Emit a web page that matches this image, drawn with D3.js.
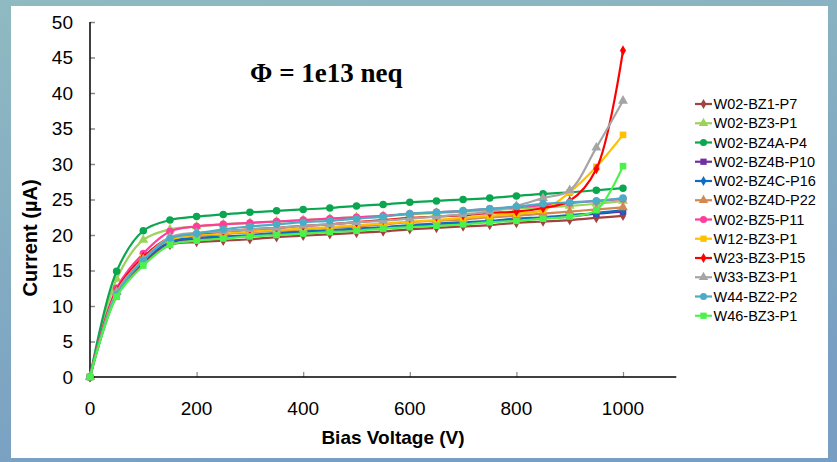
<!DOCTYPE html>
<html>
<head>
<meta charset="utf-8">
<script src="https://cdn.jsdelivr.net/npm/d3@7"></script>
<style>
	body { margin: 0; padding: 0; overflow: hidden; }
	svg { display: block; }
</style>
</head>
<body>
<div id="chart"></div>
<script>
// bias voltage steps (V)
const voltages = [0, 50, 100, 150, 200, 250, 300, 350, 400, 450, 500, 550, 600, 650, 700, 750, 800, 850, 900, 950, 1000];

const seriesNames = [
	'W02-BZ1-P7', 'W02-BZ3-P1', 'W02-BZ4A-P4', 'W02-BZ4B-P10', 'W02-BZ4C-P16', 'W02-BZ4D-P22',
	'W02-BZ5-P11', 'W12-BZ3-P1', 'W23-BZ3-P15', 'W33-BZ3-P1', 'W44-BZ2-P2', 'W46-BZ3-P1'
];

// current in uA, one array per sensor
const bz1P7 = [0, 11.5, 16.0, 18.6, 19.0, 19.2, 19.4, 19.7, 19.9, 20.1, 20.3, 20.5, 20.8, 21.0, 21.2, 21.4, 21.7, 21.9, 22.1, 22.4, 22.7];
const bz3P1 = [0, 13.8, 19.3, 20.8, 21.2, 21.5, 21.7, 21.9, 22.1, 22.3, 22.5, 22.7, 22.9, 23.1, 23.3, 23.5, 23.7, 23.9, 24.1, 24.4, 24.8];
const bz4aP4 = [0, 14.9, 20.6, 22.1, 22.6, 22.9, 23.2, 23.4, 23.6, 23.8, 24.1, 24.3, 24.6, 24.8, 25.0, 25.2, 25.5, 25.8, 26.0, 26.3, 26.6];
const bz4bP10 = [0, 11.8, 16.3, 18.9, 19.4, 19.6, 19.9, 20.1, 20.3, 20.6, 20.8, 21.0, 21.2, 21.5, 21.7, 21.9, 22.1, 22.4, 22.6, 23.0, 23.3];
const bz4cP16 = [0, 11.9, 16.4, 19.1, 19.6, 19.8, 20.0, 20.3, 20.5, 20.7, 20.9, 21.1, 21.4, 21.6, 21.8, 22.0, 22.3, 22.5, 22.8, 23.1, 23.5];
const bz4dP22 = [0, 12.0, 16.6, 19.4, 19.9, 20.1, 20.4, 20.6, 20.8, 21.0, 21.2, 21.5, 21.8, 22.0, 22.2, 22.5, 22.7, 23.0, 23.3, 23.6, 23.9];
const bz5P11 = [0, 12.5, 17.4, 20.5, 21.2, 21.5, 21.7, 21.9, 22.1, 22.3, 22.5, 22.7, 23.0, 23.2, 23.4, 23.7, 23.9, 24.2, 24.5, 24.8, 25.1];
const w12P1 = [0, 11.8, 16.8, 19.3, 20.0, 20.2, 20.5, 20.7, 20.9, 21.1, 21.4, 21.6, 21.9, 22.1, 22.4, 22.7, 23.0, 23.5, 26.0, 29.6, 34.1];
const w23P15 = [0, 12.2, 16.9, 19.6, 20.2, 20.5, 20.8, 21.0, 21.3, 21.5, 21.8, 22.1, 22.4, 22.6, 22.8, 23.1, 23.3, 23.8, 24.8, 29.3, 46.0];
const w33P1 = [0, 12.0, 16.6, 19.7, 20.3, 20.5, 20.8, 21.0, 21.3, 21.5, 21.8, 22.0, 22.3, 22.6, 22.9, 23.3, 24.1, 25.2, 26.3, 32.3, 38.9];
const w44P2 = [0, 11.6, 16.4, 19.5, 20.2, 20.8, 21.2, 21.5, 21.8, 22.0, 22.3, 22.6, 23.0, 23.2, 23.4, 23.7, 24.0, 24.4, 24.6, 24.8, 25.2];
const w46P1 = [0, 11.3, 15.7, 18.6, 19.2, 19.5, 19.8, 20.0, 20.2, 20.4, 20.6, 20.9, 21.1, 21.3, 21.5, 21.8, 22.0, 22.3, 22.6, 23.5, 29.7];

const seriesValues = [bz1P7, bz3P1, bz4aP4, bz4bP10, bz4cP16, bz4dP22, bz5P11, w12P1, w23P15, w33P1, w44P2, w46P1];

const seriesColors = [
	'#a0423f', '#9bd35a', '#0ba650', '#7030a0', '#0a6fc2', '#d2884e',
	'#ff3d9a', '#ffc000', '#ff0000', '#a5a5a5', '#4bacc6', '#4cf24c'
];

const xTicks = [0, 200, 400, 600, 800, 1000];
const yTicks = [0, 5, 10, 15, 20, 25, 30, 35, 40, 45, 50];

// Excel style marker cycle: diamond, triangle, circle, square
const markerCycle = [d3.symbolDiamond, d3.symbolTriangle, d3.symbolCircle, d3.symbolSquare];
const markerSizes = [32, 42, 44, 44];

function drawChart() {
	const width = 837;
	const height = 462;
	const left = 90, right = 676.3, top = 22, bottom = 377;

	const svg = d3.select('#chart').append('svg')
		.attr('width', width)
		.attr('height', height);

	// slide background
	const defs = svg.append('defs');
	const grad = defs.append('linearGradient')
		.attr('id', 'bg')
		.attr('x1', 0).attr('y1', 0)
		.attr('x2', 0.3).attr('y2', 1);
	grad.append('stop').attr('offset', '0%').attr('stop-color', '#8fbac1');
	grad.append('stop').attr('offset', '100%').attr('stop-color', '#789fc3');

	svg.append('rect')
		.attr('width', width)
		.attr('height', height)
		.attr('fill', 'url(#bg)');

	svg.append('rect')
		.attr('x', 11).attr('y', 6)
		.attr('width', 817).attr('height', 452)
		.attr('fill', '#fff');

	const x = d3.scaleLinear().domain([0, 1100]).range([left, right]);
	const y = d3.scaleLinear().domain([0, 50]).range([bottom, top]);

	// y axis
	const yAxis = svg.append('g')
		.attr('transform', `translate(${left},0)`)
		.call(d3.axisRight(y).tickValues(yTicks).tickSize(5).tickFormat(''));
	yAxis.select('.domain').remove();
	yAxis.selectAll('.tick line').attr('stroke', '#888').attr('stroke-width', 1.5);

	svg.append('g')
		.selectAll('text')
		.data(yTicks)
		.enter().append('text')
		.attr('x', 73)
		.attr('y', d => y(d))
		.attr('dy', '0.36em')
		.attr('text-anchor', 'end')
		.attr('font-family', 'Liberation Sans, Arial, sans-serif')
		.attr('font-size', 19)
		.attr('fill', '#000')
		.text(d => d);

	// x axis
	const xAxis = svg.append('g')
		.attr('transform', `translate(0,${bottom})`)
		.call(d3.axisTop(x).tickValues(xTicks.filter(d => d > 0)).tickSize(5).tickFormat(''));
	xAxis.select('.domain').remove();
	xAxis.selectAll('.tick line').attr('stroke', '#888').attr('stroke-width', 1.2);

	svg.append('g')
		.selectAll('text')
		.data(xTicks)
		.enter().append('text')
		.attr('x', d => x(d))
		.attr('y', 415)
		.attr('text-anchor', 'middle')
		.attr('font-family', 'Liberation Sans, Arial, sans-serif')
		.attr('font-size', 19)
		.attr('fill', '#000')
		.text(d => d);

	svg.append('line')
		.attr('x1', left).attr('x2', left)
		.attr('y1', top).attr('y2', bottom)
		.attr('stroke', '#000').attr('stroke-width', 1.5);
	svg.append('line')
		.attr('x1', left).attr('x2', right)
		.attr('y1', bottom).attr('y2', bottom)
		.attr('stroke', '#000').attr('stroke-width', 1.5);

	// axis titles
	svg.append('text')
		.attr('x', 393)
		.attr('y', 444)
		.attr('text-anchor', 'middle')
		.attr('font-family', 'Liberation Sans, Arial, sans-serif')
		.attr('font-weight', 'bold')
		.attr('font-size', 19)
		.text('Bias Voltage (V)');

	svg.append('text')
		.attr('transform', 'translate(37,238) rotate(-90)')
		.attr('text-anchor', 'middle')
		.attr('font-family', 'Liberation Sans, Arial, sans-serif')
		.attr('font-weight', 'bold')
		.attr('font-size', 20)
		.text('Current (\u00b5A)');

	svg.append('text')
		.attr('x', 250)
		.attr('y', 82)
		.attr('font-family', 'Liberation Serif, Times New Roman, serif')
		.attr('font-weight', 'bold')
		.attr('font-size', 27)
		.text('\u03a6 = 1e13 neq');

	// series
	const line = d3.line()
		.x(d => x(d[0]))
		.y(d => y(d[1]))
		.curve(d3.curveCatmullRom.alpha(0.5));

	seriesValues.forEach((values, i) => {
		const points = voltages.map((v, j) => [v, values[j]]);
		const color = seriesColors[i];
		const g = svg.append('g');
		g.append('path')
			.attr('d', line(points))
			.attr('fill', 'none')
			.attr('stroke', color)
			.attr('stroke-width', 2.2);
		const shape = d3.symbol()
			.type(markerCycle[i % 4])
			.size(markerSizes[i % 4]);
		g.selectAll('path.marker')
			.data(points)
			.enter().append('path')
			.attr('class', 'marker')
			.attr('transform', d => `translate(${x(d[0])},${y(d[1])})`)
			.attr('d', shape)
			.attr('fill', color);
	});

	// legend
	const legend = svg.append('g');
	seriesNames.forEach((name, i) => {
		const ly = 104 + i * 19.25;
		const color = seriesColors[i];
		legend.append('line')
			.attr('x1', 695).attr('x2', 712)
			.attr('y1', ly).attr('y2', ly)
			.attr('stroke', color)
			.attr('stroke-width', 2.2);
		legend.append('path')
			.attr('transform', `translate(703.5,${ly})`)
			.attr('d', d3.symbol().type(markerCycle[i % 4]).size(markerSizes[i % 4] * 0.9))
			.attr('fill', color);
		legend.append('text')
			.attr('x', 713.5)
			.attr('y', ly)
			.attr('dy', '0.36em')
			.attr('font-family', 'Liberation Sans, Arial, sans-serif')
			.attr('font-size', 14.5)
			.attr('fill', '#000')
			.text(name);
	});
}

drawChart();
</script>
</body>
</html>
